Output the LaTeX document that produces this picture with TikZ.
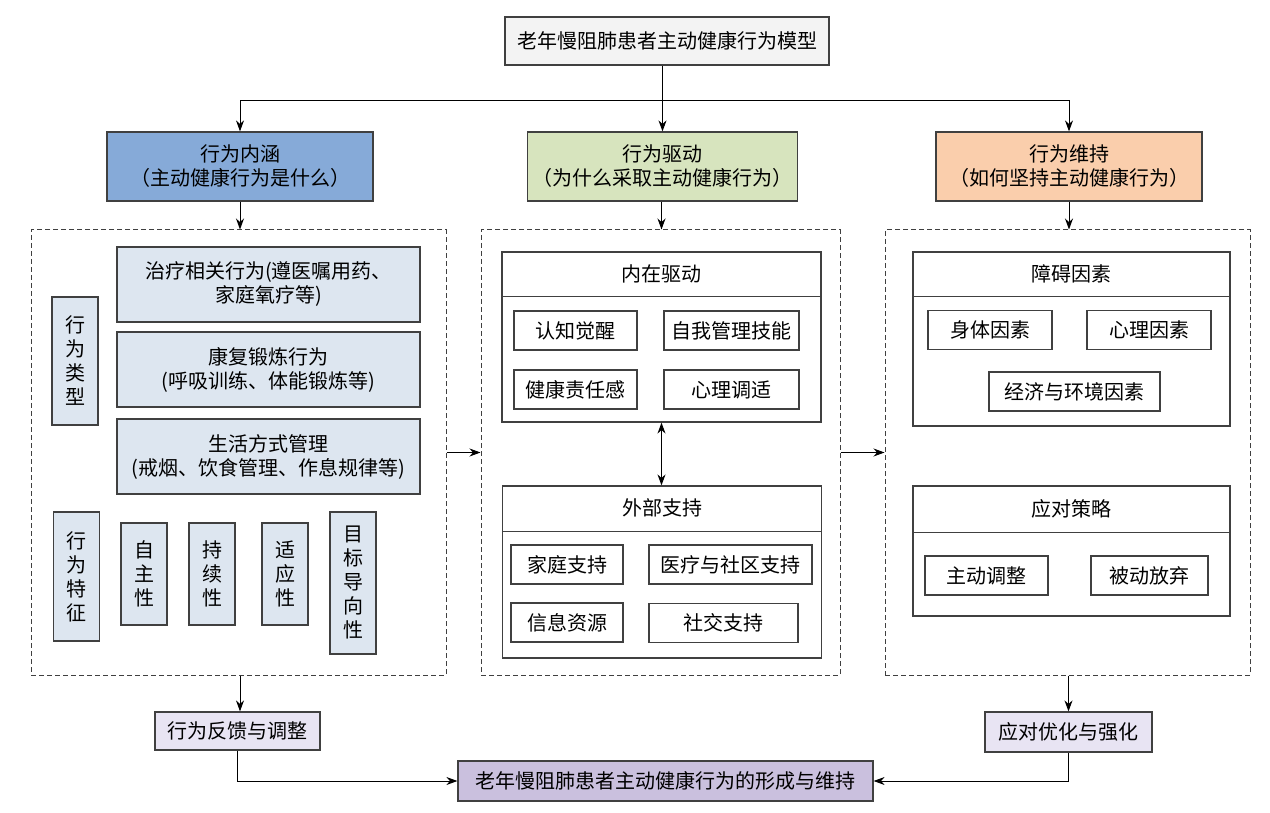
\documentclass[tikz,border=0pt]{standalone}
\usepackage{fontspec}
\setmainfont{Noto Sans CJK SC}
\usepackage{tikz}
\usetikzlibrary{positioning,arrows.meta}
\definecolor{topgray}{RGB}{243,243,243}
\definecolor{hblue}{RGB}{134,170,216}
\definecolor{hgreen}{RGB}{215,228,190}
\definecolor{horange}{RGB}{250,206,172}
\definecolor{cellblue}{RGB}{221,230,240}
\definecolor{lav}{RGB}{232,228,243}
\definecolor{purp}{RGB}{202,192,222}

\begin{document}
\begin{tikzpicture}[x=1pt,y=-1pt,
		font=\fontsize{20}{24}\selectfont,
		bx/.style={rectangle,draw=black!75,line width=1.2pt,inner sep=0pt,align=center},
		hd/.style={bx,minimum width=266pt,minimum height=69pt},
		cell/.style={bx,fill=cellblue,minimum width=303pt,minimum height=75pt},
		vc/.style={bx,fill=cellblue,minimum width=46pt},
		sm/.style={bx,minimum height=39pt},
		grp/.style={bx,minimum width=319pt},
		ttl/.style={inner sep=0pt,minimum height=45pt},
		div/.style={draw=black!75,line width=1.2pt},
		dsh/.style={rectangle,draw=black!75,line width=1pt,dash pattern=on 5pt off 3pt,minimum height=445pt,inner sep=0pt},
		a/.style={draw,line width=1pt,-{Stealth[length=11pt,width=8pt]}},
		aa/.style={draw,line width=1pt,{Stealth[length=11pt,width=8pt]}-{Stealth[length=11pt,width=8pt]}}
		]
		\useasboundingbox (0,0) rectangle (1270,813);
		
		% top and the three headers
		\node [bx,fill=topgray,minimum width=324pt,minimum height=48pt] (model) at (667,41) {老年慢阻肺患者主动健康行为模型};
		\node [hd,fill=hblue] (meaning) at (240,166.5) {行为内涵\\（主动健康行为是什么）};
		\node [hd,fill=hgreen,minimum width=270pt] (drive) at (662.5,166.5) {行为驱动\\（为什么采取主动健康行为）};
		\node [hd,fill=horange] (keep) at (1069,166.5) {行为维持\\（如何坚持主动健康行为）};
		
		% dashed panels
		\node [dsh,minimum width=415pt] (panel meaning) at (238.5,452.5) {};
		\node [dsh,minimum width=359pt] (panel drive) at (660.5,452.5) {};
		\node [dsh,minimum width=365pt] (panel keep) at (1067.5,452.5) {};
		
		% left panel
		\node [vc,minimum height=128pt] (type) at (75,361) {行\\为\\类\\型};
		\node [cell] (treat) at (268.5,284.5) {治疗相关行为(遵医嘱用药、\\家庭氧疗等)};
		\node [cell] (rehab) at (268.5,369.5) {康复锻炼行为\\(呼吸训练、体能锻炼等)};
		\node [cell] (life) at (268.5,456.5) {生活方式管理\\(戒烟、饮食管理、作息规律等)};
		\node [vc,minimum height=129pt] (feature) at (76.5,576.5) {行\\为\\特\\征};
		\node [vc,minimum height=102pt] (auto) at (144,574) {自\\主\\性};
		\node [vc,minimum height=102pt] (sustain) at (212,574) {持\\续\\性};
		\node [vc,minimum height=102pt] (adapt) at (285,574) {适\\应\\性};
		\node [vc,minimum height=142pt] (goal) at (353,583) {目\\标\\导\\向\\性};
		
		% middle panel
		\node [grp,minimum height=170pt] (inner) at (661.5,337) {};
		\node [ttl,below=0pt of inner.north] (inner title) {内在驱动};
		\path [div] ([yshift=-45pt]inner.north west) -- ([yshift=-45pt]inner.north east);
		\node [sm,minimum width=123pt] (aware) at (575.5,330.5) {认知觉醒};
		\node [sm,minimum width=135pt] (skill) at (731.5,330.5) {自我管理技能};
		\node [sm,minimum width=123pt] (duty) at (575.5,389.5) {健康责任感};
		\node [sm,minimum width=135pt] (adjust) at (731.5,389.5) {心理调适};
		
		\node [grp,minimum height=172pt] (outer) at (662,572) {};
		\node [ttl,below=0pt of outer.north] (outer title) {外部支持};
		\path [div] ([yshift=-46pt]outer.north west) -- ([yshift=-46pt]outer.north east);
		\node [sm,minimum width=112pt] (family) at (567,564.5) {家庭支持};
		\node [sm,minimum width=163pt] (medical) at (730.5,564.5) {医疗与社区支持};
		\node [sm,minimum width=112pt] (info) at (567,622.5) {信息资源};
		\node [sm,minimum width=149pt] (social) at (723.5,623) {社交支持};
		
		% right panel
		\node [grp,minimum width=317pt,minimum height=174pt] (barrier) at (1071.5,339) {};
		\node [ttl,below=0pt of barrier.north] (barrier title) {障碍因素};
		\path [div] ([yshift=-45pt]barrier.north west) -- ([yshift=-45pt]barrier.north east);
		\node [sm,minimum width=124pt] (body) at (990,330) {身体因素};
		\node [sm,minimum width=124pt] (mind) at (1149,330) {心理因素};
		\node [sm,minimum width=171pt] (econ) at (1074.5,391.5) {经济与环境因素};
		
		\node [grp,minimum width=317pt,minimum height=130pt] (cope) at (1071.5,551) {};
		\node [ttl,below=0pt of cope.north,minimum height=47pt] (cope title) {应对策略};
		\path [div] ([yshift=-47pt]cope.north west) -- ([yshift=-47pt]cope.north east);
		\node [sm,minimum width=123pt] (active) at (986.5,575.5) {主动调整};
		\node [sm,minimum width=117pt] (passive) at (1149.5,575.5) {被动放弃};
		
		% bottom
		\node [bx,fill=lav,minimum width=165pt,minimum height=38pt] (feedback) at (237.5,731) {行为反馈与调整};
		\node [bx,fill=lav,minimum width=167pt,minimum height=40pt] (optimise) at (1068.5,732) {应对优化与强化};
		\node [bx,fill=purp,minimum width=415pt,minimum height=40pt] (result) at (665.5,781) {老年慢阻肺患者主动健康行为的形成与维持};
		
		\coordinate (split) at (662.5,101);
		\path [a] (model.south -| drive) -- (drive.north);
		\path [a] (split) -| (meaning.north);
		\path [a] (split) -| (keep.north);
		\path [a] (meaning.south) -- (meaning.south |- panel meaning.north);
		\path [a] (drive.south -| inner) -- (inner.north |- panel drive.north);
		\path [a] (keep.south) -- (keep.south |- panel keep.north);
		\path [a] (panel meaning.east) -- (panel drive.west);
		\path [a] (panel drive.east) -- (panel keep.west);
		\path [aa] (inner.south) -- (inner.south |- outer.north);
		\path [a] (panel meaning.south -| meaning) -- (feedback.north -| meaning);
		\path [a] (panel keep.south -| optimise) -- (optimise.north);
		\path [a] (feedback.south) |- (result.west);
		\path [a] (optimise.south) |- (result.east);
		
	\end{tikzpicture}
\end{document}
